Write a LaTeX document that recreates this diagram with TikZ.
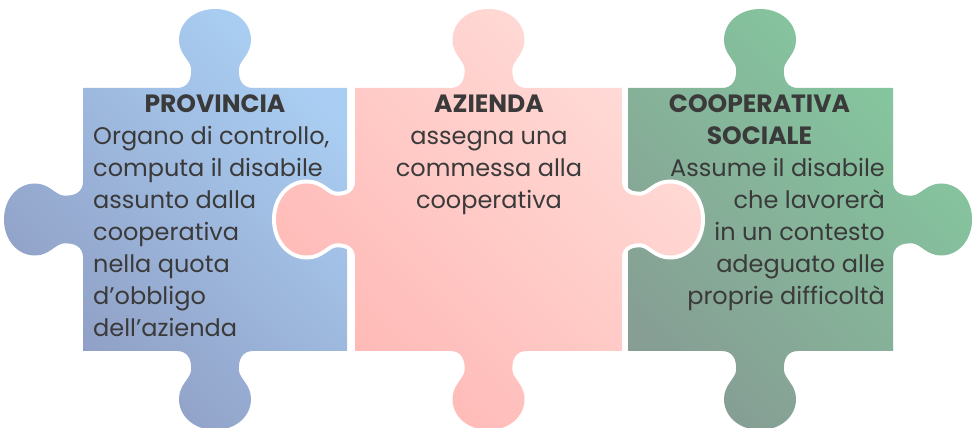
\documentclass[tikz,border=0pt]{standalone}
\usepackage{fontspec}
\setmainfont{Poppins}
\definecolor{bluelight}{HTML}{AACEF3}
\definecolor{bluedark}{HTML}{8E9CC2}
\definecolor{pinklight}{HTML}{FFDCD8}
\definecolor{pinkdark}{HTML}{FFB8B5}
\definecolor{greenlight}{HTML}{85CA9F}
\definecolor{greendark}{HTML}{869E94}
\definecolor{txt}{HTML}{3A3A3A}
\newcommand\knobseg{-- (-38,0) .. controls (-27,0) and (-23,9) .. (-24,20)
  .. controls (-25,28) and (-36,34) .. (-36,48)
  .. controls (-36,66) and (-20,79) .. (0,79)
  .. controls (20,79) and (36,66) .. (36,48)
  .. controls (36,34) and (25,28) .. (24,20)
  .. controls (23,9) and (27,0) .. (38,0)}
\tikzset{
  title/.style={font=\fontsize{25}{32}\selectfont\bfseries, text=txt, inner sep=0pt},
  body/.style={font=\fontsize{24}{32}\selectfont, text=txt, inner sep=0pt},
}
\begin{document}
\begin{tikzpicture}[x=1pt,y=1pt]
\useasboundingbox (0,0) rectangle (972,428);
% blue piece
\shade[top color=bluelight, bottom color=bluedark, shading angle=-45]
  (83,340) {[shift={(215,340)}] \knobseg} -- (347,340) -- (347,77)
  {[shift={(215,77)},rotate=180] \knobseg} -- (83,77)
  {[shift={(83,208.5)},rotate=90] \knobseg} -- cycle;
% green piece
\shade[top color=greenlight, bottom color=greendark, shading angle=-45]
  (628,340) {[shift={(760,340)}] \knobseg} -- (893,340)
  {[shift={(893,208.5)},rotate=-90] \knobseg} -- (893,77)
  {[shift={(760,77)},rotate=180] \knobseg} -- (628,77) -- cycle;
% pink piece
\shade[preaction={draw=white, line width=8pt},
  top color=pinklight, bottom color=pinkdark, shading angle=-45]
  (355,340) {[shift={(488.5,340)}] \knobseg} -- (622,340)
  {[shift={(622,208.5)},rotate=-90] \knobseg} -- (622,77)
  {[shift={(488.5,77)},rotate=180] \knobseg} -- (355,77)
  {[shift={(355,208.5)},rotate=90] \knobseg} -- cycle;
% texts (base anchor = baseline of the last line)
\node[title, anchor=base] (provt) at (215,315) {PROVINCIA};
\node[body, align=left, anchor=base west] (provb) at (93,91)
  {Organo di controllo,\\computa il disabile\\assunto dalla\\cooperativa\\nella quota\\d’obbligo\\dell’azienda};
\node[title, anchor=base] (azt) at (489,315) {AZIENDA};
\node[body, align=center, anchor=base] (azb) at (489,219)
  {assegna una\\commessa alla\\cooperativa};
\node[title, align=center, anchor=base] (coopt) at (759.5,283) {COOPERATIVA\\SOCIALE};
\node[body, align=right, anchor=base east] (coopb) at (885,123)
  {Assume il disabile\\che lavorerà\\in un contesto\\adeguato alle\\proprie difficoltà};
\end{tikzpicture}
\end{document}
